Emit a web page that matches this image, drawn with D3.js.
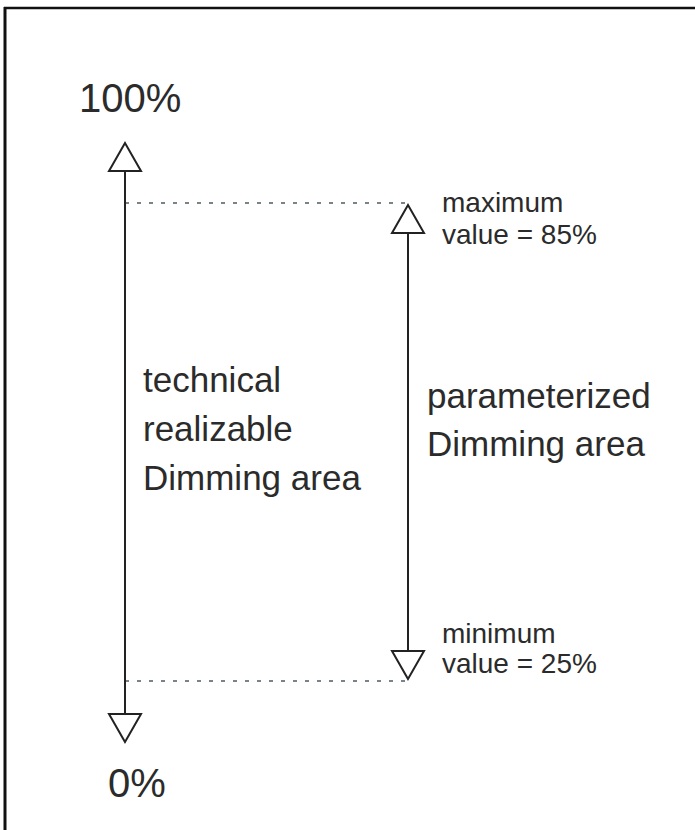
<!DOCTYPE html>
<html>
<head>
<meta charset="utf-8">
<script src="https://cdn.jsdelivr.net/npm/d3@7"></script>
<style>
  html, body { margin: 0; padding: 0; background: #fff; }
  svg { display: block; }
  text { font-family: "Liberation Sans", Arial, sans-serif; fill: #2b2b2b; }
</style>
</head>
<body>
<script>
// ---- data ----
const levels = [0, 25, 85, 100];                 // percent levels on the schematic
const rangeNames = ["technical", "parameterized"];
const rangeMin = [0, 25];
const rangeMax = [100, 85];
const rangeLabels = [
  ["technical", "realizable", "Dimming area"],
  ["parameterized", "Dimming area"]
];
const endLabels = ["100%", "0%"];
const maxLabel = ["maximum", "value = 85%"];
const minLabel = ["minimum", "value = 25%"];

// ---- layout ----
const W = 695, H = 830;
const svg = d3.select("body").append("svg").attr("width", W).attr("height", H);

// schematic (not-to-scale) vertical scale
const y = d3.scaleLinear().domain(levels).range([742, 681, 203, 143]);
const x = d3.scalePoint().domain(rangeNames).range([125, 408]).padding(0);

// frame (top and left edges)
svg.append("line").attr("x1", 4).attr("x2", W).attr("y1", 8).attr("y2", 8)
  .attr("stroke", "#111").attr("stroke-width", 2.5);
svg.append("line").attr("x1", 5).attr("x2", 5).attr("y1", 7).attr("y2", H)
  .attr("stroke", "#111").attr("stroke-width", 3);

// dotted reference lines at the parameterized limits
const limits = [rangeMax[1], rangeMin[1]];
svg.selectAll("line.ref").data(limits).join("line")
  .attr("class", "ref")
  .attr("x1", x(rangeNames[0])).attr("x2", x(rangeNames[1]))
  .attr("y1", d => y(d)).attr("y2", d => y(d))
  .attr("stroke", "#7a828a").attr("stroke-width", 2)
  .attr("stroke-dasharray", "4 8");

// double arrows
const triW = 32, triH = 28;
const stroke = "#222";
rangeNames.forEach((name, i) => {
  const cx = x(name);
  const inset = i === 0 ? 0 : 2;
  const yTop = y(rangeMax[i]) + inset;
  const yBot = y(rangeMin[i]) - inset;
  const g = svg.append("g");
  g.append("line").attr("x1", cx).attr("x2", cx)
    .attr("y1", yTop + triH).attr("y2", yBot - triH)
    .attr("stroke", stroke).attr("stroke-width", 2);
  const tri = d3.line();
  g.append("path")
    .attr("d", tri([[cx, yTop], [cx - triW / 2, yTop + triH], [cx + triW / 2, yTop + triH]]) + "Z")
    .attr("fill", "#fff").attr("stroke", stroke).attr("stroke-width", 2).attr("stroke-linejoin", "miter");
  g.append("path")
    .attr("d", tri([[cx, yBot], [cx - triW / 2, yBot - triH], [cx + triW / 2, yBot - triH]]) + "Z")
    .attr("fill", "#fff").attr("stroke", stroke).attr("stroke-width", 2).attr("stroke-linejoin", "miter");
});

// end labels
svg.append("text").attr("x", 79).attr("y", 112).attr("font-size", 40).text(endLabels[0]);
svg.append("text").attr("x", 108).attr("y", 797).attr("font-size", 40).text(endLabels[1]);

// range labels
function block(lines, x0, y0, size, lh) {
  const t = svg.append("text").attr("x", x0).attr("y", y0).attr("font-size", size);
  t.selectAll("tspan").data(lines).join("tspan")
    .attr("x", x0).attr("dy", (d, i) => i === 0 ? 0 : lh).text(d => d);
}
block(rangeLabels[0], 143, 392, 35, 49);
block(rangeLabels[1], 427, 408, 35, 48);
block(maxLabel, 442, 212, 28, 32);
block(minLabel, 442, 643, 28, 30);
</script>
</body>
</html>
